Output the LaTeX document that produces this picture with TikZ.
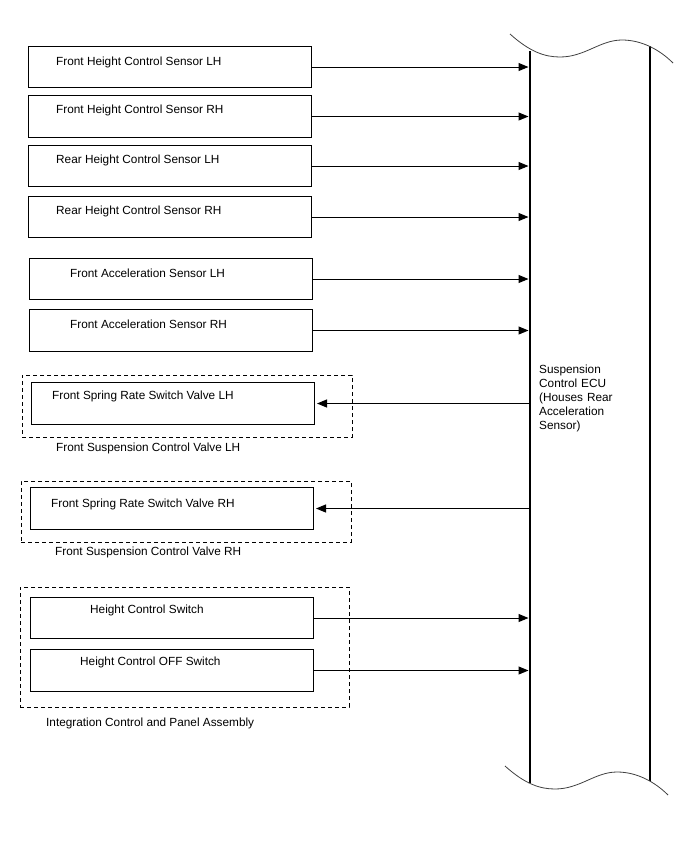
\documentclass[tikz,border=0pt]{standalone}
\usepackage{fontspec}
\setmainfont{Liberation Sans}
\usetikzlibrary{arrows.meta}
\tikzset{
  sbox/.style={draw,line width=1pt,minimum width=283pt,minimum height=41.5pt,inner sep=0pt},
  grp/.style={draw,line width=1pt,dash pattern=on 4pt off 3pt,inner sep=0pt},
  txt/.style={anchor=base west,inner sep=0pt,font=\fontsize{11.8}{14}\selectfont},
  sig/.style={line width=1pt,-{Triangle[length=10pt,width=8pt]}},
  wave/.style={line width=.8pt,black!75}
}
\begin{document}
\begin{tikzpicture}[x=1pt,y=-1pt]
  \useasboundingbox (0,0) rectangle (688,852);
  \node[grp,minimum width=330pt,minimum height=62pt] (fscvl) at (187,406) {};
  \node[grp,minimum width=330pt,minimum height=61pt] (fscvr) at (186,511.5) {};
  \node[grp,minimum width=329pt,minimum height=120pt] (icpa) at (184.5,647) {};
  \node[sbox] (fhl) at (170,67) {}; \node[sbox] (fhr) at (170,116.5) {};
  \node[sbox] (rhl) at (170,166) {}; \node[sbox] (rhr) at (170,217) {};
  \node[sbox] (fal) at (171,279) {}; \node[sbox] (far) at (171,330.5) {};
  \node[sbox] (fsl) at (172.5,403.5) {}; \node[sbox] (fsr) at (171.5,508.5) {};
  \node[sbox] (hcs) at (171.5,618) {}; \node[sbox] (hco) at (171.5,670.5) {};
  \node[txt] (fhl-t) at (56,65) {Front Height Control Sensor LH};
  \node[txt] (fhr-t) at (56,113) {Front Height Control Sensor RH};
  \node[txt] (rhl-t) at (56,163) {Rear Height Control Sensor LH};
  \node[txt] (rhr-t) at (56,214) {Rear Height Control Sensor RH};
  \node[txt] (fal-t) at (70,277) {Front Acceleration Sensor LH};
  \node[txt] (far-t) at (70,328) {Front Acceleration Sensor RH};
  \node[txt] (fsl-t) at (52,399) {Front Spring Rate Switch Valve LH};
  \node[txt] (fscvl-t) at (56,451) {Front Suspension Control Valve LH};
  \node[txt] (fsr-t) at (51,507) {Front Spring Rate Switch Valve RH};
  \node[txt] (fscvr-t) at (55,555) {Front Suspension Control Valve RH};
  \node[txt] (hcs-t) at (90,613) {Height Control Switch};
  \node[txt] (hco-t) at (80,665) {Height Control OFF Switch};
  \node[txt] (icpa-t) at (46,726) {Integration Control and Panel Assembly};
  \coordinate (ecul) at (530,0); \coordinate (ecur) at (650,0);
  \draw[line width=1.2pt] (530,51) -- (530,783) (650,46) -- (650,781);
  \draw[wave] (510,34) .. controls (530,52) and (545,57) .. (560,57) .. controls (585,57) and (600,40) .. (622,40) .. controls (642,40) and (660,50) .. (673,63);
  \draw[wave] (505,766) .. controls (525,784) and (540,789) .. (555,789) .. controls (580,789) and (595,772) .. (617,772) .. controls (637,772) and (655,782) .. (668,795);
  \node[txt,align=left,text width=110pt] (ecu) at (539,373) {Suspension\\Control ECU\\(Houses Rear\\Acceleration\\Sensor)};
  \foreach \b in {fhl,fhr,rhl,rhr,fal,far,hcs,hco}
    \draw[sig,shorten >=1.5pt] (\b.east) -- (\b.east -| ecul);
  \foreach \b in {fsl,fsr}
    \draw[sig,shorten >=2.5pt] (\b.east -| ecul) -- (\b.east);
\end{tikzpicture}
\end{document}
